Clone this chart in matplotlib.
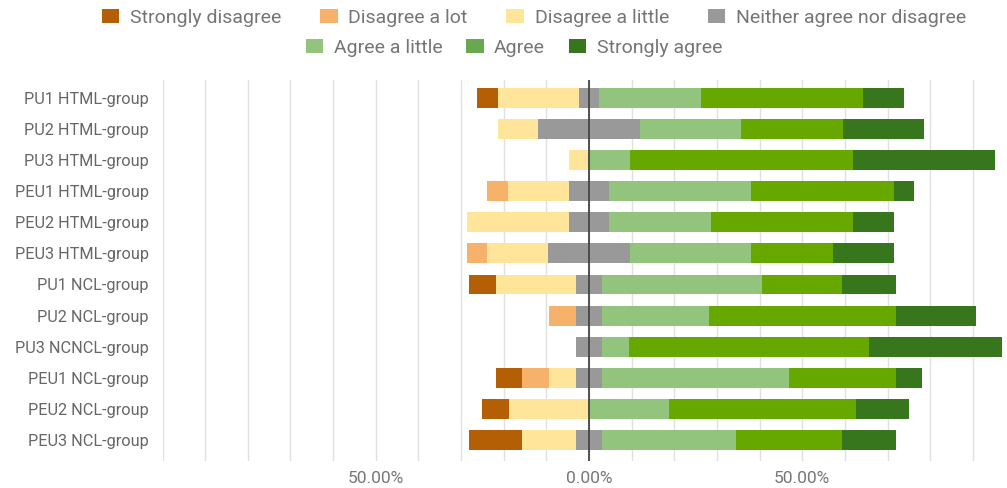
import numpy as np
import matplotlib
matplotlib.use('Agg')
import matplotlib.pyplot as plt
from matplotlib.patches import Patch

plt.rcParams['font.family'] = ['Roboto', 'DejaVu Sans']

# Data (percent of respondents per answer)
groups = ['PU1 HTML-group', 'PU2 HTML-group', 'PU3 HTML-group', 'PEU1 HTML-group',
          'PEU2 HTML-group', 'PEU3 HTML-group', 'PU1 NCL-group', 'PU2 NCL-group',
          'PU3 NCNCL-group', 'PEU1 NCL-group', 'PEU2 NCL-group', 'PEU3 NCL-group']

strongly_disagree = [4.76, 0, 0, 0, 0, 0, 6.25, 0, 0, 6.25, 6.25, 12.5]
disagree_a_lot = [0, 0, 0, 4.76, 0, 4.76, 0, 6.25, 0, 6.25, 0, 0]
disagree_a_little = [19.05, 9.52, 4.76, 14.29, 23.81, 14.29, 18.75, 0, 0, 6.25, 18.75, 12.5]
neither = [4.76, 23.81, 0, 9.52, 9.52, 19.05, 6.25, 6.25, 6.25, 6.25, 0, 6.25]
agree_a_little = [23.81, 23.81, 9.52, 33.33, 23.81, 28.57, 37.5, 25, 6.25, 43.75, 18.75, 31.25]
agree = [38.10, 23.81, 52.38, 33.33, 33.33, 19.05, 18.75, 43.75, 56.25, 25, 43.75, 25]
strongly_agree = [9.52, 19.05, 33.33, 4.76, 9.52, 14.29, 12.5, 18.75, 31.25, 6.25, 12.5, 12.5]

labels = ['Strongly disagree', 'Disagree a lot', 'Disagree a little',
          'Neither agree nor disagree', 'Agree a little', 'Agree', 'Strongly agree']
colors = ['#b45f06', '#f6b26b', '#ffe599', '#999999', '#93c47d', '#66a800', '#38761d']
legend_colors = ['#b45f06', '#f6b26b', '#ffe599', '#999999', '#93c47d', '#6aa84f', '#38761d']

series = [strongly_disagree, disagree_a_lot, disagree_a_little, neither,
          agree_a_little, agree, strongly_agree]
vals = np.array(series, dtype=float)

W, H = 1007, 488
fig = plt.figure(figsize=(W / 100, H / 100), dpi=100)
ax = fig.add_axes([162.5 / W, 1 - 461 / H, (1002.2 - 162.5) / W, (461 - 80) / H])

y = np.arange(len(groups))
# diverging: neutral split in half around zero
left = -(vals[0] + vals[1] + vals[2] + vals[3] / 2)
for v, c in zip(vals, colors):
    ax.barh(y, v, left=left, height=0.64, color=c, linewidth=0, zorder=3)
    left = left + v

ax.set_xlim(-100, left.max())
ax.set_ylim(len(groups) - 1 + 0.68, -0.58)

ax.set_xticks([-50, 0, 50])
ax.set_xticklabels(['50.00%', '0.00%', '50.00%'])
ax.set_xticks(np.arange(-100, 100, 10), minor=True)
ax.grid(True, which='both', axis='x', color='#e0e0e0', linewidth=1, zorder=0)
ax.axvline(0, color='#444444', linewidth=1.3, zorder=4)

ax.set_yticks(y)
ax.set_yticklabels(groups)
ax.tick_params(axis='y', length=0, pad=10, labelsize=11.7, labelcolor='#666666')
ax.tick_params(axis='x', which='both', length=0, pad=7, labelsize=12.5, labelcolor='#777777')
for s in ax.spines.values():
    s.set_visible(False)

handles = [Patch(facecolor=c, edgecolor='none') for c in legend_colors]
legend_kw = dict(loc='center', frameon=False, fontsize=14, labelcolor='#757575',
                 handlelength=0.9, handleheight=0.75, handletextpad=0.55)
fig.legend(handles[:4], labels[:4], ncol=4, columnspacing=2.0,
           bbox_to_anchor=(534 / W, 1 - 18 / H), **legend_kw)
fig.legend(handles[4:], labels[4:], ncol=3, columnspacing=1.2,
           bbox_to_anchor=(514 / W, 1 - 48 / H), **legend_kw)

fig.savefig('out.png', dpi=100)
